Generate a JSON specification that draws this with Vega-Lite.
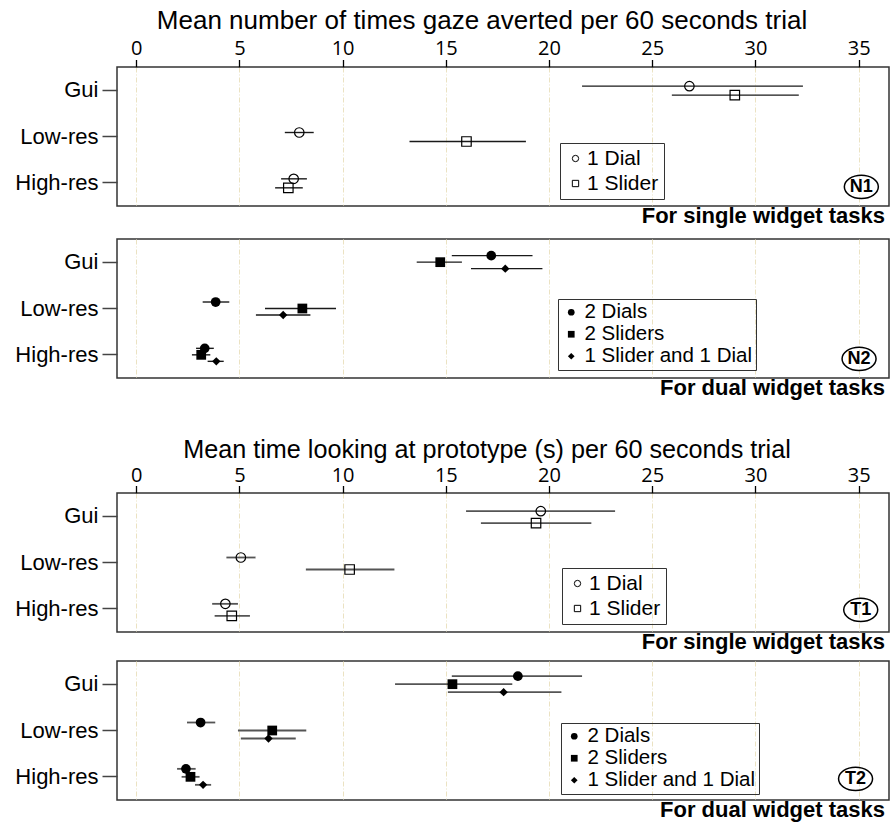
{
"$schema": "https://vega.github.io/schema/vega-lite/v6.json",
"padding": {"left": 14, "top": 6, "right": 0, "bottom": 0},
"config": {"view": {"stroke": "#333", "strokeWidth": 1.5}, "font": "Liberation Sans"},
"data": {"values": [
{"panel":"N1","cond":"Gui","series":"1 Dial","mean":26.8,"lo":21.6,"hi":32.3},
{"panel":"N1","cond":"Gui","series":"1 Slider","mean":29.0,"lo":25.95,"hi":32.1},
{"panel":"N1","cond":"Low-res","series":"1 Dial","mean":7.9,"lo":7.2,"hi":8.6},
{"panel":"N1","cond":"Low-res","series":"1 Slider","mean":16.0,"lo":13.24,"hi":18.88},
{"panel":"N1","cond":"High-res","series":"1 Dial","mean":7.63,"lo":7.02,"hi":8.27},
{"panel":"N1","cond":"High-res","series":"1 Slider","mean":7.37,"lo":6.73,"hi":8.07},
{"panel":"N2","cond":"Gui","series":"2 Dials","mean":17.2,"lo":15.29,"hi":19.2},
{"panel":"N2","cond":"Gui","series":"2 Sliders","mean":14.73,"lo":13.59,"hi":15.78},
{"panel":"N2","cond":"Gui","series":"1 Slider and 1 Dial","mean":17.88,"lo":16.22,"hi":19.68},
{"panel":"N2","cond":"Low-res","series":"2 Dials","mean":3.85,"lo":3.22,"hi":4.51},
{"panel":"N2","cond":"Low-res","series":"2 Sliders","mean":8.05,"lo":6.24,"hi":9.68},
{"panel":"N2","cond":"Low-res","series":"1 Slider and 1 Dial","mean":7.12,"lo":5.8,"hi":8.44},
{"panel":"N2","cond":"High-res","series":"2 Dials","mean":3.32,"lo":2.9,"hi":3.76},
{"panel":"N2","cond":"High-res","series":"2 Sliders","mean":3.15,"lo":2.7,"hi":3.59},
{"panel":"N2","cond":"High-res","series":"1 Slider and 1 Dial","mean":3.88,"lo":3.46,"hi":4.24},
{"panel":"T1","cond":"Gui","series":"1 Dial","mean":19.6,"lo":15.98,"hi":23.2},
{"panel":"T1","cond":"Gui","series":"1 Slider","mean":19.37,"lo":16.7,"hi":22.05},
{"panel":"T1","cond":"Low-res","series":"1 Dial","mean":5.07,"lo":4.37,"hi":5.78},
{"panel":"T1","cond":"Low-res","series":"1 Slider","mean":10.34,"lo":8.22,"hi":12.51},
{"panel":"T1","cond":"High-res","series":"1 Dial","mean":4.32,"lo":3.68,"hi":4.93},
{"panel":"T1","cond":"High-res","series":"1 Slider","mean":4.63,"lo":3.8,"hi":5.51},
{"panel":"T2","cond":"Gui","series":"2 Dials","mean":18.49,"lo":15.29,"hi":21.6},
{"panel":"T2","cond":"Gui","series":"2 Sliders","mean":15.32,"lo":12.54,"hi":18.22},
{"panel":"T2","cond":"Gui","series":"1 Slider and 1 Dial","mean":17.8,"lo":15.1,"hi":20.6},
{"panel":"T2","cond":"Low-res","series":"2 Dials","mean":3.12,"lo":2.46,"hi":3.83},
{"panel":"T2","cond":"Low-res","series":"2 Sliders","mean":6.59,"lo":4.93,"hi":8.24},
{"panel":"T2","cond":"Low-res","series":"1 Slider and 1 Dial","mean":6.41,"lo":5.07,"hi":7.73},
{"panel":"T2","cond":"High-res","series":"2 Dials","mean":2.41,"lo":1.98,"hi":2.88},
{"panel":"T2","cond":"High-res","series":"2 Sliders","mean":2.63,"lo":2.2,"hi":3.07},
{"panel":"T2","cond":"High-res","series":"1 Slider and 1 Dial","mean":3.24,"lo":2.85,"hi":3.63}
]},
"spacing": 36,
"resolve": {"scale": {"shape": "independent", "yOffset": "independent"}, "legend": {"shape": "independent"}},
"vconcat": [
{
"spacing": 10,
"resolve": {"scale": {"shape": "independent", "yOffset": "independent"}, "legend": {"shape": "independent"}},
"vconcat": [
{
"width": 772, "height": 139,
"transform": [{"filter": "datum.panel === 'N1'"}],
"title": {"text": "For single widget tasks", "orient": "bottom", "anchor": "end", "font": "Liberation Sans", "fontSize": 22, "fontWeight": "bold", "color": "black", "offset": 0, "dx": -4},
"layer": [
{"mark": {"type": "rule", "color": "#1a1a1a", "strokeWidth": 1.4},
 "encoding": {
  "x": {"field": "lo", "type": "quantitative", "scale": {"domain": [-0.93, 36.47], "nice": false, "zero": false},
        "axis": {"orient": "top", "title": "Mean number of times gaze averted per 60 seconds trial", "titleFont": "Liberation Sans", "titleFontSize": 26, "titleFontWeight": "normal", "titleColor": "black", "titlePadding": 5, "titleX": 364.5, "titleAlign": "center", "values": [0,5,10,15,20,25,30,35], "domain": false, "tickSize": 7.5, "tickColor": "black", "tickWidth": 1.3, "labelFont": "Open Sans", "labelFontSize": 20, "labelColor": "black", "labelPadding": 1, "labelFlush": false, "grid": true, "gridColor": "#ebe2c2", "gridDash": [5,2,1,2], "gridWidth": 1}},
  "x2": {"field": "hi"},
  "y": {"field": "cond", "type": "nominal", "scale": {"type": "band", "domain": ["Gui","Low-res","High-res"], "paddingInner": 0, "paddingOuter": 0},
        "axis": {"title": null, "domain": false, "tickSize": 15, "tickColor": "#444", "tickWidth": 1.5, "labelFont": "Liberation Sans", "labelFontSize": 22, "labelColor": "black", "labelPadding": 4, "grid": false}},
  "yOffset": {"field": "series", "type": "nominal", "scale": {"type": "band", "domain": ["1 Dial","1 Slider"], "range": [14.67, 32.67], "paddingInner": 0, "paddingOuter": 0}}
 }},
{"mark": {"type": "point", "filled": false, "color": "black", "strokeWidth": 1.2, "opacity": 1, "size": 90},
 "encoding": {
  "x": {"field": "mean", "type": "quantitative"},
  "y": {"field": "cond", "type": "nominal"},
  "yOffset": {"field": "series", "type": "nominal"},
  "shape": {"field": "series", "type": "nominal", "scale": {"domain": ["1 Dial","1 Slider"], "range": ["circle","square"]},
            "legend": {"title": null, "orient": "none", "legendX": 443, "legendY": 76, "strokeColor": "#333", "padding": 5, "labelFont": "Liberation Sans", "labelFontSize": 21, "labelLimit": 400, "labelColor": "black", "labelOffset": 1, "symbolSize": 40, "symbolStrokeColor": "black", "symbolStrokeWidth": 1, "rowPadding": 3}}
 }},
{"data": {"values": [{"tag": "N1"}]},
 "mark": {"type": "point", "shape": "M-1,0A1,0.68,0,1,1,1,0A1,0.68,0,1,1,-1,0Z", "size": 1156, "filled": false, "color": "black", "strokeWidth": 1.5, "opacity": 1, "yOffset": 4},
 "encoding": {"x": {"datum": 35.13, "type": "quantitative"}, "y": {"datum": "High-res", "type": "nominal"}}},
{"data": {"values": [{"tag": "N1"}]},
 "mark": {"type": "text", "font": "Liberation Sans", "fontSize": 18, "fontWeight": "bold", "color": "black", "align": "center", "baseline": "middle", "dy": 4},
 "encoding": {"x": {"datum": 35.13, "type": "quantitative"}, "y": {"datum": "High-res", "type": "nominal"}, "text": {"field": "tag"}}}
]
},
{
"width": 772, "height": 139,
"transform": [{"filter": "datum.panel === 'N2'"}],
"title": {"text": "For dual widget tasks", "orient": "bottom", "anchor": "end", "font": "Liberation Sans", "fontSize": 22, "fontWeight": "bold", "color": "black", "offset": 0, "dx": -4},
"layer": [
{"mark": {"type": "rule", "color": "#1a1a1a", "strokeWidth": 1.4},
 "encoding": {
  "x": {"field": "lo", "type": "quantitative", "scale": {"domain": [-0.93, 36.47], "nice": false, "zero": false},
        "axis": {"orient": "top", "title": null, "labels": false, "ticks": false, "domain": false, "values": [0,5,10,15,20,25,30,35], "grid": true, "gridColor": "#ebe2c2", "gridDash": [5,2,1,2], "gridWidth": 1}},
  "x2": {"field": "hi"},
  "y": {"field": "cond", "type": "nominal", "scale": {"type": "band", "domain": ["Gui","Low-res","High-res"], "paddingInner": 0, "paddingOuter": 0},
        "axis": {"title": null, "domain": false, "tickSize": 15, "tickColor": "#444", "tickWidth": 1.5, "labelFont": "Liberation Sans", "labelFontSize": 22, "labelColor": "black", "labelPadding": 4, "grid": false}},
  "yOffset": {"field": "series", "type": "nominal", "scale": {"type": "band", "domain": ["2 Dials","2 Sliders","1 Slider and 1 Dial"], "range": [13.42, 32.92], "paddingInner": 0, "paddingOuter": 0}}
 }},
{"mark": {"type": "point", "filled": true, "color": "black", "opacity": 1},
 "encoding": {
  "x": {"field": "mean", "type": "quantitative"},
  "y": {"field": "cond", "type": "nominal"},
  "yOffset": {"field": "series", "type": "nominal"},
  "size": {"condition": {"test": "datum.series === '1 Slider and 1 Dial'", "value": 70}, "value": 95},
  "shape": {"field": "series", "type": "nominal", "scale": {"domain": ["2 Dials","2 Sliders","1 Slider and 1 Dial"], "range": ["circle","square","diamond"]},
            "legend": {"title": null, "orient": "none", "legendX": 441, "legendY": 60, "strokeColor": "#333", "padding": 3, "labelFont": "Liberation Sans", "labelFontSize": 20.5, "labelLimit": 400, "labelColor": "black", "labelOffset": 3, "symbolSize": 45, "symbolFillColor": "black", "symbolStrokeColor": "black", "rowPadding": 1}}
 }},
{"data": {"values": [{"tag": "N2"}]},
 "mark": {"type": "point", "shape": "M-1,0A1,0.68,0,1,1,1,0A1,0.68,0,1,1,-1,0Z", "size": 1156, "filled": false, "color": "black", "strokeWidth": 1.5, "opacity": 1, "yOffset": 4},
 "encoding": {"x": {"datum": 35.02, "type": "quantitative"}, "y": {"datum": "High-res", "type": "nominal"}}},
{"data": {"values": [{"tag": "N2"}]},
 "mark": {"type": "text", "font": "Liberation Sans", "fontSize": 18, "fontWeight": "bold", "color": "black", "align": "center", "baseline": "middle", "dy": 4},
 "encoding": {"x": {"datum": 35.02, "type": "quantitative"}, "y": {"datum": "High-res", "type": "nominal"}, "text": {"field": "tag"}}}
]
}
]
},
{
"spacing": 6,
"resolve": {"scale": {"shape": "independent", "yOffset": "independent"}, "legend": {"shape": "independent"}},
"vconcat": [
{
"width": 772, "height": 139,
"transform": [{"filter": "datum.panel === 'T1'"}],
"title": {"text": "For single widget tasks", "orient": "bottom", "anchor": "end", "font": "Liberation Sans", "fontSize": 22, "fontWeight": "bold", "color": "black", "offset": 0, "dx": -4},
"layer": [
{"mark": {"type": "rule", "color": "#555", "strokeWidth": 1.8},
 "encoding": {
  "x": {"field": "lo", "type": "quantitative", "scale": {"domain": [-0.93, 36.47], "nice": false, "zero": false},
        "axis": {"orient": "top", "title": "Mean time looking at prototype (s) per 60 seconds trial", "titleFont": "Liberation Sans", "titleFontSize": 25.2, "titleFontWeight": "normal", "titleColor": "black", "titlePadding": 3, "titleX": 369.5, "titleAlign": "center", "values": [0,5,10,15,20,25,30,35], "domain": false, "tickSize": 7.5, "tickColor": "black", "tickWidth": 1.3, "labelFont": "Open Sans", "labelFontSize": 20, "labelColor": "black", "labelPadding": 0, "labelFlush": false, "grid": true, "gridColor": "#ebe2c2", "gridDash": [5,2,1,2], "gridWidth": 1}},
  "x2": {"field": "hi"},
  "y": {"field": "cond", "type": "nominal", "scale": {"type": "band", "domain": ["Gui","Low-res","High-res"], "paddingInner": 0, "paddingOuter": 0},
        "axis": {"title": null, "domain": false, "tickSize": 15, "tickColor": "#444", "tickWidth": 1.5, "labelFont": "Liberation Sans", "labelFontSize": 22, "labelColor": "black", "labelPadding": 4, "grid": false}},
  "yOffset": {"field": "series", "type": "nominal", "scale": {"type": "band", "domain": ["1 Dial","1 Slider"], "range": [12.17, 36.17], "paddingInner": 0, "paddingOuter": 0}}
 }},
{"mark": {"type": "point", "filled": false, "color": "black", "strokeWidth": 1.2, "opacity": 1, "size": 90},
 "encoding": {
  "x": {"field": "mean", "type": "quantitative"},
  "y": {"field": "cond", "type": "nominal"},
  "yOffset": {"field": "series", "type": "nominal"},
  "shape": {"field": "series", "type": "nominal", "scale": {"domain": ["1 Dial","1 Slider"], "range": ["circle","square"]},
            "legend": {"title": null, "orient": "none", "legendX": 445, "legendY": 75, "strokeColor": "#333", "padding": 5, "labelFont": "Liberation Sans", "labelFontSize": 21, "labelLimit": 400, "labelColor": "black", "labelOffset": 1, "symbolSize": 40, "symbolStrokeColor": "black", "symbolStrokeWidth": 1, "rowPadding": 3}}
 }},
{"data": {"values": [{"tag": "T1"}]},
 "mark": {"type": "point", "shape": "M-1,0A1,0.68,0,1,1,1,0A1,0.68,0,1,1,-1,0Z", "size": 1156, "filled": false, "color": "black", "strokeWidth": 1.5, "opacity": 1, "yOffset": 1},
 "encoding": {"x": {"datum": 35.1, "type": "quantitative"}, "y": {"datum": "High-res", "type": "nominal"}}},
{"data": {"values": [{"tag": "T1"}]},
 "mark": {"type": "text", "font": "Liberation Sans", "fontSize": 18, "fontWeight": "bold", "color": "black", "align": "center", "baseline": "middle", "dy": 1},
 "encoding": {"x": {"datum": 35.1, "type": "quantitative"}, "y": {"datum": "High-res", "type": "nominal"}, "text": {"field": "tag"}}}
]
},
{
"width": 772, "height": 139,
"transform": [{"filter": "datum.panel === 'T2'"}],
"title": {"text": "For dual widget tasks", "orient": "bottom", "anchor": "end", "font": "Liberation Sans", "fontSize": 22, "fontWeight": "bold", "color": "black", "offset": 0, "dx": -4},
"layer": [
{"mark": {"type": "rule", "color": "#555", "strokeWidth": 1.8},
 "encoding": {
  "x": {"field": "lo", "type": "quantitative", "scale": {"domain": [-0.93, 36.47], "nice": false, "zero": false},
        "axis": {"orient": "top", "title": null, "labels": false, "ticks": false, "domain": false, "values": [0,5,10,15,20,25,30,35], "grid": true, "gridColor": "#ebe2c2", "gridDash": [5,2,1,2], "gridWidth": 1}},
  "x2": {"field": "hi"},
  "y": {"field": "cond", "type": "nominal", "scale": {"type": "band", "domain": ["Gui","Low-res","High-res"], "paddingInner": 0, "paddingOuter": 0},
        "axis": {"title": null, "domain": false, "tickSize": 15, "tickColor": "#444", "tickWidth": 1.5, "labelFont": "Liberation Sans", "labelFontSize": 22, "labelColor": "black", "labelPadding": 4, "grid": false}},
  "yOffset": {"field": "series", "type": "nominal", "scale": {"type": "band", "domain": ["2 Dials","2 Sliders","1 Slider and 1 Dial"], "range": [11.17, 35.17], "paddingInner": 0, "paddingOuter": 0}}
 }},
{"mark": {"type": "point", "filled": true, "color": "black", "opacity": 1},
 "encoding": {
  "x": {"field": "mean", "type": "quantitative"},
  "y": {"field": "cond", "type": "nominal"},
  "yOffset": {"field": "series", "type": "nominal"},
  "size": {"condition": {"test": "datum.series === '1 Slider and 1 Dial'", "value": 70}, "value": 95},
  "shape": {"field": "series", "type": "nominal", "scale": {"domain": ["2 Dials","2 Sliders","1 Slider and 1 Dial"], "range": ["circle","square","diamond"]},
            "legend": {"title": null, "orient": "none", "legendX": 444, "legendY": 62, "strokeColor": "#333", "padding": 3, "labelFont": "Liberation Sans", "labelFontSize": 20.5, "labelLimit": 400, "labelColor": "black", "labelOffset": 3, "symbolSize": 45, "symbolFillColor": "black", "symbolStrokeColor": "black", "rowPadding": 1}}
 }},
{"data": {"values": [{"tag": "T2"}]},
 "mark": {"type": "point", "shape": "M-1,0A1,0.68,0,1,1,1,0A1,0.68,0,1,1,-1,0Z", "size": 1156, "filled": false, "color": "black", "strokeWidth": 1.5, "opacity": 1, "yOffset": 2},
 "encoding": {"x": {"datum": 34.85, "type": "quantitative"}, "y": {"datum": "High-res", "type": "nominal"}}},
{"data": {"values": [{"tag": "T2"}]},
 "mark": {"type": "text", "font": "Liberation Sans", "fontSize": 18, "fontWeight": "bold", "color": "black", "align": "center", "baseline": "middle", "dy": 2},
 "encoding": {"x": {"datum": 34.85, "type": "quantitative"}, "y": {"datum": "High-res", "type": "nominal"}, "text": {"field": "tag"}}}
]
}
]
}
]
}
